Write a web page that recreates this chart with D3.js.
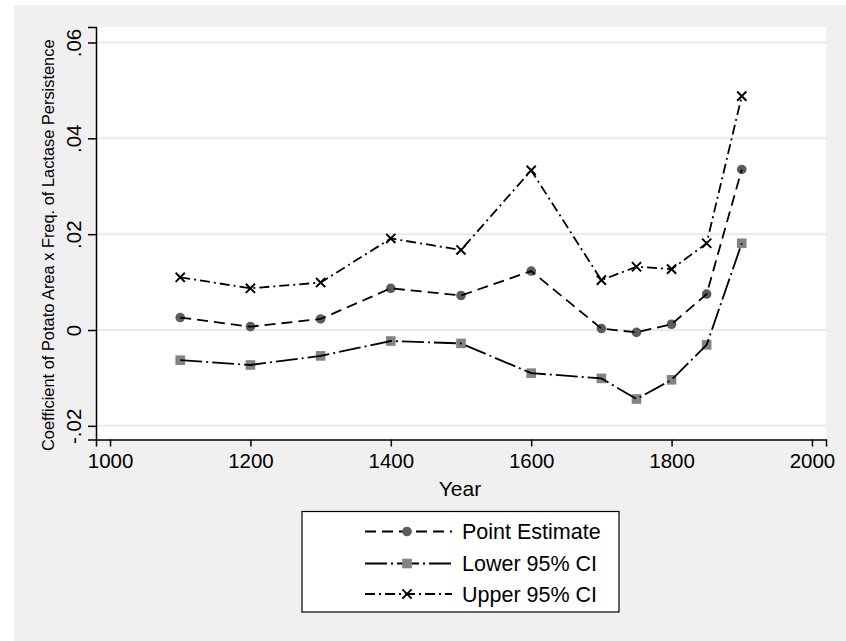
<!DOCTYPE html>
<html>
<head>
<meta charset="utf-8">
<script src="https://cdn.jsdelivr.net/npm/d3@7"></script>
<style>
html,body{margin:0;padding:0;background:#ffffff;}
svg{display:block;}
text{font-family:"Liberation Sans",Arial,sans-serif;fill:#000;}
</style>
</head>
<body>
<svg id="chart" width="846" height="641"></svg>
<script>
const years = [1100, 1200, 1300, 1400, 1500, 1600, 1700, 1750, 1800, 1850, 1900];
const pointEstimate = [0.0026, 0.0007, 0.0023, 0.0087, 0.0072, 0.0123, 0.0003, -0.0005, 0.0012, 0.0075, 0.0335];
const lower95 = [-0.0063, -0.0073, -0.0054, -0.0023, -0.0028, -0.0090, -0.0101, -0.0144, -0.0104, -0.0031, 0.0181];
const upper95 = [0.0110, 0.0087, 0.0099, 0.0191, 0.0167, 0.0333, 0.0104, 0.0132, 0.0127, 0.0181, 0.0488];
const xTicks = [1000, 1200, 1400, 1600, 1800, 2000];
const yTicks = [-0.02, 0, 0.02, 0.04, 0.06];
const yTickLabels = ["-.02", "0", ".02", ".04", ".06"];
const seriesNames = ["Point Estimate", "Lower 95% CI", "Upper 95% CI"];

const svg = d3.select("#chart");
svg.append("rect").attr("x", 14).attr("y", 5).attr("width", 846 - 14).attr("height", 641 - 5).attr("fill", "#f0f0f0");

const L = 96, R = 826, T = 27, B = 439.5;
const x = d3.scaleLinear().domain([980, 2020]).range([L, R]);
const y = d3.scaleLinear().domain([-0.02285, 0.06323]).range([B, T]);

svg.append("rect").attr("x", L).attr("y", T).attr("width", R - L).attr("height", B - T).attr("fill", "#ffffff");

svg.append("g").selectAll("line").data(yTicks).join("line")
  .attr("x1", L).attr("x2", R)
  .attr("y1", d => y(d)).attr("y2", d => y(d))
  .attr("stroke", "#eaeaea").attr("stroke-width", 2);

const xAxis = d3.axisBottom(x).tickValues(xTicks).tickFormat(d3.format("d")).tickSize(7).tickPadding(7);
const gx = svg.append("g").attr("transform", `translate(0,${B})`).call(xAxis);
gx.select(".domain").attr("stroke", "#000").attr("stroke-width", 1.5);
gx.selectAll(".tick line").attr("stroke", "#000").attr("stroke-width", 1.5);
gx.selectAll(".tick text").attr("font-size", 20.5).attr("font-family", "Liberation Sans, Arial, sans-serif").attr("fill", "#000");

const yAxis = d3.axisLeft(y).tickValues(yTicks).tickFormat((d, i) => yTickLabels[i]).tickSize(8).tickPadding(0);
const gy = svg.append("g").attr("transform", `translate(${L},0)`).call(yAxis);
gy.select(".domain").attr("stroke", "#000").attr("stroke-width", 1.5);
gy.selectAll(".tick line").attr("stroke", "#000").attr("stroke-width", 1.5);
gy.selectAll(".tick text")
  .attr("font-size", 20.5).attr("font-family", "Liberation Sans, Arial, sans-serif").attr("fill", "#000")
  .attr("text-anchor", "middle").attr("dy", null).attr("x", null)
  .attr("transform", "translate(-15,0) rotate(-90)")
  .attr("y", 0);

svg.append("text").attr("x", (x(1000) + x(2000)) / 2 - 1).attr("y", 496)
  .attr("text-anchor", "middle").attr("font-size", 21).text("Year");
svg.append("text")
  .attr("transform", `translate(54,${(T + B) / 2 + 12}) rotate(-90)`)
  .attr("text-anchor", "middle").attr("font-size", 16.4)
  .text("Coefficient of Potato Area x Freq. of Lactase Persistence");

const styles = [
  {vals: pointEstimate, dash: "11,6", marker: "circle"},
  {vals: lower95, dash: "22,4,2,4", marker: "square"},
  {vals: upper95, dash: "10,4,2,4", marker: "x"}
];
const line = d3.line().x(d => x(d[0])).y(d => y(d[1]));

function drawMarker(g, type, cx, cy) {
  if (type === "circle") {
    g.append("circle").attr("cx", cx).attr("cy", cy).attr("r", 4.8).attr("fill", "#5c5c5c");
  } else if (type === "square") {
    g.append("rect").attr("x", cx - 4.8).attr("y", cy - 4.8).attr("width", 9.6).attr("height", 9.6).attr("fill", "#838383");
  } else {
    const s = 4.6;
    g.append("path").attr("d", `M${cx - s},${cy - s}L${cx + s},${cy + s}M${cx - s},${cy + s}L${cx + s},${cy - s}`)
      .attr("stroke", "#000").attr("stroke-width", 2).attr("fill", "none");
  }
}

styles.forEach(st => {
  const data = years.map((yr, i) => [yr, st.vals[i]]);
  const g = svg.append("g");
  data.forEach(d => drawMarker(g, st.marker, x(d[0]), y(d[1])));
  g.append("path").datum(data).attr("d", line)
    .attr("fill", "none").attr("stroke", "#000").attr("stroke-width", 1.8)
    .attr("stroke-dasharray", st.dash);
});

const lg = svg.append("g");
lg.append("rect").attr("x", 302).attr("y", 511.5).attr("width", 317).attr("height", 100.5)
  .attr("fill", "#ffffff").attr("stroke", "#000").attr("stroke-width", 1.2);
const rowY = [531.5, 563.5, 594];
styles.forEach((st, i) => {
  const ly = rowY[i];
  lg.append("line").attr("x1", 365).attr("x2", 452).attr("y1", ly).attr("y2", ly)
    .attr("stroke", "#000").attr("stroke-width", 1.8).attr("stroke-dasharray", st.dash);
  drawMarker(lg, st.marker, 407, ly);
  lg.append("text").attr("x", 462).attr("y", ly + 7.5).attr("font-size", 21.5).text(seriesNames[i]);
});
</script>
</body>
</html>
